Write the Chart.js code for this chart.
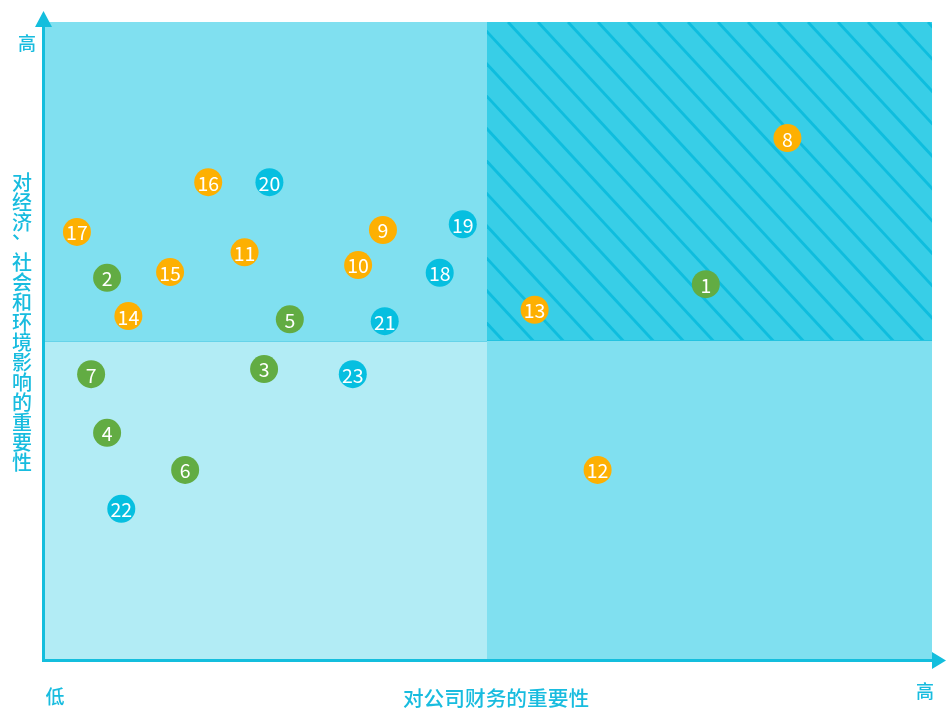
<!DOCTYPE html>
<html>
<head>
<meta charset="utf-8">
<script src="https://cdn.jsdelivr.net/npm/chart.js@4/dist/chart.umd.min.js"></script>
<style>
html,body{margin:0;padding:0;background:#fff;}
#wrap{position:relative;width:946px;height:708px;}
</style>
</head>
<body>
<div id="wrap"><canvas id="c" width="946" height="708"></canvas></div>
<script>
// ---- data ----
const envLabels = ['1','2','3','4','5','6','7'];
const envX = [74.5, 7.0, 24.7, 7.0, 27.6, 15.8, 5.2];
const envY = [58.9, 59.9, 45.6, 35.6, 53.4, 29.8, 44.8];

const socLabels = ['8','9','10','11','12','13','14','15','16','17'];
const socX = [83.7, 38.1, 35.3, 22.5, 62.3, 55.2, 9.4, 14.1, 18.4, 3.6];
const socY = [81.8, 67.4, 61.9, 63.9, 29.8, 54.9, 53.9, 60.8, 74.9, 67.1];

const govLabels = ['18','19','20','21','22','23'];
const govX = [44.5, 47.1, 25.3, 38.3, 8.6, 34.7];
const govY = [60.7, 68.3, 74.9, 53.1, 23.7, 44.8];

const xTitle = '对公司财务的重要性';
const yTitle = '对经济、社会和环境影响的重要性';
const lowLabel = '低';
const highLabel = '高';
const axisMin = 0, axisMax = 100;
const splitX = 49.8, splitY = 50;

function pts(xs, ys, ls){ return xs.map((x,i)=>({x:x, y:ys[i], label:ls[i]})); }

const COL_AXIS = '#14BEDD';
const FONT = '"Noto Sans CJK SC","Noto Sans",sans-serif';

const quadPlugin = {
  id:'quad',
  beforeDatasetsDraw(chart){
    const {ctx, chartArea:a, scales:{x,y}} = chart;
    const mx = Math.round(x.getPixelForValue(splitX)), my = Math.round(y.getPixelForValue(splitY));
    ctx.save();
    ctx.fillStyle = '#80E0F0';
    ctx.fillRect(a.left, a.top, mx-a.left, my-a.top);
    ctx.fillRect(mx, my, a.right-mx, a.bottom-my);
    ctx.fillStyle = '#B2ECF5';
    ctx.fillRect(a.left, my, mx-a.left, a.bottom-my);
    ctx.fillStyle = '#38CEE7';
    ctx.fillRect(mx, a.top, a.right-mx, my-a.top);
    // stripes
    ctx.save();
    ctx.beginPath();
    ctx.rect(mx, a.top, a.right-mx, my-a.top);
    ctx.clip();
    ctx.strokeStyle = '#0EBDDE';
    ctx.lineWidth = 2.8;
    const h = my - a.top;
    const dx = h / 1.08;
    for(let k = -12; k < 16; k++){
      const sx = mx + 21 + k*30;
      ctx.beginPath();
      ctx.moveTo(sx, a.top);
      ctx.lineTo(sx + dx, a.top + h);
      ctx.stroke();
    }
    ctx.restore();
    // boundary lines
    ctx.lineWidth = 1;
    ctx.strokeStyle = '#66D3E9';
    ctx.beginPath();
    ctx.moveTo(a.left, my+0.5); ctx.lineTo(mx, my+0.5);
    ctx.stroke();
    ctx.strokeStyle = '#25C3E0';
    ctx.beginPath();
    ctx.moveTo(mx, my-0.5); ctx.lineTo(a.right, my-0.5);
    ctx.stroke();
    // axes
    ctx.strokeStyle = COL_AXIS;
    ctx.fillStyle = COL_AXIS;
    ctx.lineWidth = 3;
    ctx.beginPath();
    ctx.moveTo(a.left-1.5, a.bottom+1.5);
    ctx.lineTo(a.left-1.5, a.top);
    ctx.stroke();
    ctx.beginPath();
    ctx.moveTo(a.left-3, a.bottom+0.5);
    ctx.lineTo(a.right, a.bottom+0.5);
    ctx.stroke();
    ctx.beginPath();
    ctx.moveTo(a.left-1.5, 11);
    ctx.lineTo(a.left-10, 27);
    ctx.lineTo(a.left+7, 27);
    ctx.closePath(); ctx.fill();
    ctx.beginPath();
    ctx.moveTo(946, a.bottom+0.5);
    ctx.lineTo(a.right, a.bottom-8);
    ctx.lineTo(a.right, a.bottom+9);
    ctx.closePath(); ctx.fill();
    // texts
    ctx.fillStyle = '#18BCDF';
    ctx.textAlign = 'center';
    ctx.textBaseline = 'middle';
    ctx.font = '500 18px ' + FONT;
    ctx.fillText(highLabel, 27, 43);
    ctx.fillText(highLabel, 925, 691);
    ctx.font = '500 19px ' + FONT;
    ctx.fillText(lowLabel, 55, 697);
    ctx.font = '500 20.7px ' + FONT;
    ctx.fillText(xTitle, 496, 698);
    ctx.font = '500 20px ' + FONT;
    Array.from(yTitle).forEach((ch,i)=>{
      const off = (ch === '、') ? -11 : 0;
      ctx.fillText(ch, 22, 182 + i*20 + off);
    });
    ctx.restore();
  },
  afterDatasetsDraw(chart){
    const {ctx} = chart;
    ctx.save();
    ctx.fillStyle = '#ffffff';
    ctx.textAlign = 'center';
    ctx.textBaseline = 'middle';
    ctx.font = '19.5px ' + FONT;
    chart.data.datasets.forEach((ds, di)=>{
      const meta = chart.getDatasetMeta(di);
      meta.data.forEach((el, i)=>{
        ctx.fillText(ds.data[i].label, el.x, el.y + 1);
      });
    });
    ctx.restore();
  }
};

new Chart(document.getElementById('c'), {
  type:'scatter',
  data:{
    datasets:[
      {label:'环境', data:pts(envX, envY, envLabels), backgroundColor:'#62AC43', pointRadius:14, pointHoverRadius:14, borderWidth:0},
      {label:'社会', data:pts(socX, socY, socLabels), backgroundColor:'#FDB002', pointRadius:14, pointHoverRadius:14, borderWidth:0},
      {label:'治理', data:pts(govX, govY, govLabels), backgroundColor:'#06BFE0', pointRadius:14, pointHoverRadius:14, borderWidth:0}
    ]
  },
  options:{
    responsive:false,
    animation:false,
    layout:{padding:{left:45, right:14, top:22, bottom:48}},
    plugins:{legend:{display:false}, tooltip:{enabled:false}},
    scales:{
      x:{type:'linear', min:axisMin, max:axisMax, display:false},
      y:{type:'linear', min:axisMin, max:axisMax, display:false}
    }
  },
  plugins:[quadPlugin]
});
</script>
</body>
</html>
